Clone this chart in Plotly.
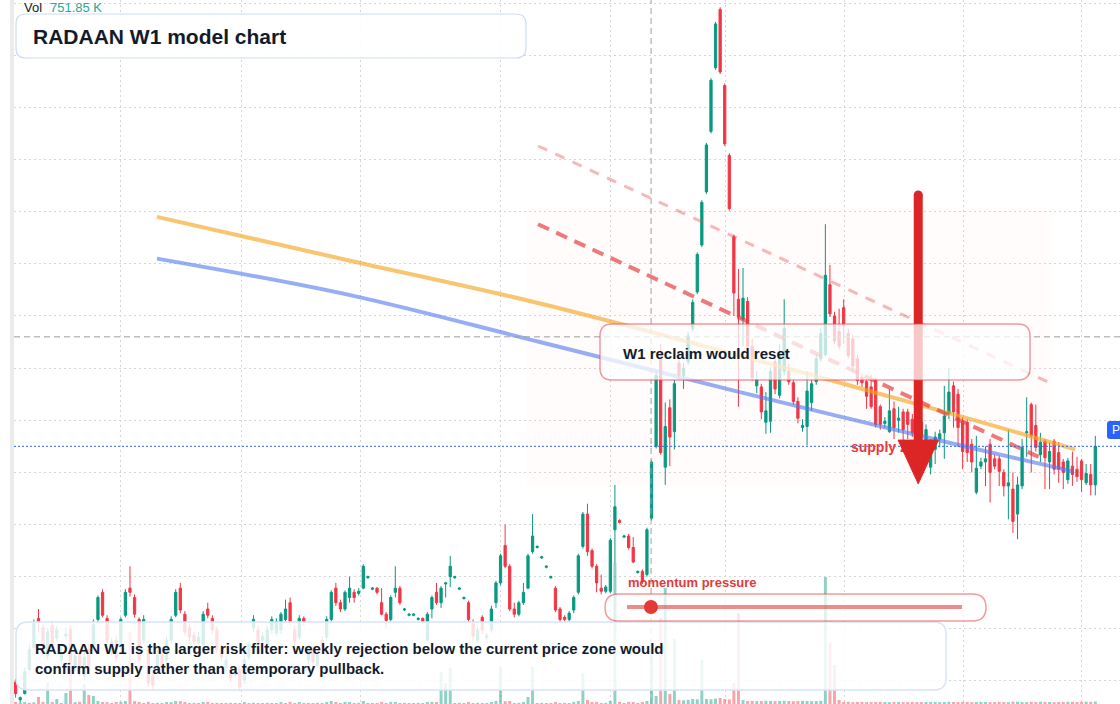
import plotly.graph_objects as go

# ---------------- data (weekly candles, index = week number) ----------------
opens = [
    4.9, 3.2, 3.8, 6.1, 8.2, 11.0, 10.1, 7.4, 10.3, 9.1,
    7.0, 9.3, 9.9, 6.3, 7.6, 5.5, 8.0, 8.4, 10.9, 13.5,
    11.0, 8.0, 8.9, 8.5, 11.3, 13.9, 13.0, 10.9, 8.9, 8.0,
    5.5, 6.1, 7.5, 7.0, 8.9, 11.3, 13.9, 11.4, 10.1, 9.4,
    8.7, 8.5, 11.9, 11.0, 9.9, 8.2, 6.3, 6.1, 5.6, 6.1,
    5.1, 7.3, 10.1, 9.9, 8.9, 8.5, 9.9, 9.6, 9.9, 10.9,
    12.5, 9.9, 9.2, 11.0, 7.0, 8.0, 6.5, 8.9, 9.2, 10.9,
    13.9, 12.5, 11.9, 13.0, 13.5, 13.4, 13.9, 14.9, 13.8, 13.9,
    12.5, 11.4, 10.9, 13.5, 13.9, 11.8, 11.3, 11.3, 10.9, 11.0,
    8.9, 11.9, 13.5, 12.5, 14.3, 15.0, 14.9, 13.8, 12.9, 12.5,
    10.5, 8.9, 11.1, 9.2, 9.9, 12.5, 14.4, 18.0, 16.0, 11.9,
    11.4, 12.5, 13.9, 17.4, 17.8, 16.8, 15.9, 14.9, 13.9, 11.9,
    11.1, 10.9, 11.8, 13.5, 17.9, 21.0, 17.5, 16.0, 13.9, 13.6,
    13.6, 19.5, 20.4, 18.8, 18.9, 17.8, 15.4, 15.5, 15.2, 20.6,
    27.5, 35.9, 25.5, 31.2, 28.9, 35.5, 34.3, 35.6, 38.8, 42.3,
    46.8, 51.9, 57.7, 63.8, 69.4, 62.1, 55.4, 47.6, 41.6, 39.7,
    41.4, 37.1, 33.3, 33.2, 29.8, 29.9, 35.6, 32.4, 34.7, 34.7,
    33.6, 31.8, 29.3, 29.4, 31.7, 33.7, 35.9, 36.3, 43.0, 40.0,
    38.5, 40.8, 38.3, 37.8, 35.9, 34.1, 33.7, 33.2, 33.9, 31.3,
    29.7, 28.9, 31.1, 30.0, 30.8, 30.8, 30.1, 29.6, 29.8, 27.7,
    25.5, 27.2, 28.2, 28.8, 30.6, 33.3, 32.5, 29.9, 29.8, 27.7,
    23.1, 25.6, 26.0, 27.7, 26.3, 26.3, 25.0, 23.7, 23.4, 21.0,
    23.7, 28.8, 31.5, 29.5, 26.7, 28.0, 26.0, 28.0, 26.9, 26.0,
    24.3, 25.6, 25.3, 26.1, 24.0, 24.8, 23.8,
]
highs = [
    5.2, 3.5, 6.3, 8.5, 10.9, 11.9, 10.4, 10.1, 10.7, 10.3,
    8.2, 10.1, 10.3, 7.8, 8.0, 7.8, 8.5, 10.9, 13.2, 13.8,
    11.3, 9.1, 9.3, 11.1, 13.8, 16.0, 13.3, 11.1, 11.3, 8.4,
    5.9, 8.0, 8.0, 9.3, 11.2, 13.8, 14.4, 11.7, 10.5, 9.7,
    9.7, 11.7, 12.5, 11.3, 10.2, 8.5, 7.4, 6.4, 6.3, 6.4,
    7.4, 8.8, 11.3, 10.3, 9.7, 10.3, 11.2, 11.0, 11.6, 12.8,
    13.0, 10.3, 11.3, 11.2, 8.4, 8.4, 8.0, 9.3, 11.2, 13.7,
    14.4, 12.8, 13.7, 15.0, 13.8, 13.9, 16.2, 15.1, 14.0, 14.0,
    13.9, 11.6, 13.2, 16.0, 14.1, 12.0, 11.5, 11.5, 11.1, 11.1,
    11.6, 13.2, 14.4, 14.1, 14.5, 17.0, 15.1, 14.0, 13.1, 12.7,
    10.9, 10.3, 11.3, 9.6, 12.2, 14.6, 17.2, 20.0, 16.2, 12.5,
    12.7, 14.4, 17.2, 21.0, 18.0, 17.0, 16.1, 15.1, 14.1, 12.1,
    11.3, 11.7, 13.2, 17.2, 21.2, 22.0, 17.7, 16.2, 15.2, 14.2,
    18.7, 23.8, 20.5, 19.0, 19.1, 18.8, 15.6, 15.7, 19.7, 26.2,
    34.7, 37.3, 31.7, 32.0, 33.9, 36.1, 35.5, 38.5, 41.6, 46.1,
    51.1, 56.6, 62.8, 68.2, 69.6, 62.3, 55.6, 47.8, 44.5, 44.6,
    41.8, 37.8, 34.7, 33.5, 32.7, 35.1, 36.1, 37.3, 41.6, 35.4,
    33.9, 32.2, 30.1, 34.7, 33.9, 36.3, 38.8, 48.8, 44.9, 40.4,
    40.7, 41.6, 38.8, 38.2, 36.3, 34.5, 33.9, 34.4, 34.1, 31.5,
    30.3, 33.0, 31.8, 31.3, 31.1, 31.1, 30.6, 30.1, 30.3, 29.6,
    28.2, 28.9, 29.1, 33.3, 35.0, 33.7, 33.0, 30.3, 30.1, 28.2,
    28.5, 26.4, 27.5, 28.2, 26.7, 26.6, 25.3, 29.1, 25.0, 24.6,
    28.2, 32.2, 31.7, 31.5, 28.8, 28.2, 27.9, 28.2, 27.9, 26.3,
    26.4, 27.0, 26.5, 26.3, 25.8, 25.8, 28.5,
]
lows = [
    3.4, 2.9, 3.7, 5.9, 8.0, 9.7, 8.0, 7.0, 7.8, 8.8,
    6.6, 8.9, 6.6, 5.9, 5.5, 5.1, 5.9, 8.0, 10.5, 11.1,
    8.6, 7.4, 6.8, 8.0, 11.1, 13.1, 11.1, 6.6, 8.6, 4.5,
    4.1, 5.7, 5.9, 6.6, 8.6, 11.1, 11.5, 9.3, 8.8, 8.4,
    8.4, 8.2, 11.0, 9.5, 7.7, 6.9, 5.9, 4.9, 5.3, 4.1,
    4.7, 7.0, 9.7, 8.3, 8.6, 8.2, 9.5, 9.3, 9.5, 10.7,
    10.4, 8.4, 8.9, 10.3, 6.6, 6.4, 6.3, 8.0, 8.9, 10.7,
    12.2, 11.6, 11.7, 12.5, 12.5, 13.2, 13.8, 14.8, 13.7, 13.3,
    11.3, 10.1, 10.7, 13.0, 12.3, 11.7, 11.2, 11.2, 10.8, 10.5,
    8.8, 11.0, 12.3, 12.0, 13.0, 14.0, 14.8, 13.7, 12.8, 10.7,
    8.9, 8.7, 9.5, 8.9, 9.6, 12.0, 14.2, 15.8, 11.7, 11.1,
    11.2, 12.3, 13.8, 17.2, 17.7, 16.7, 15.8, 14.8, 11.6, 10.5,
    10.7, 10.7, 11.5, 13.3, 17.7, 17.0, 15.8, 13.5, 13.3, 13.4,
    13.4, 16.3, 20.1, 18.7, 17.6, 16.3, 15.3, 14.3, 15.0, 20.4,
    27.3, 26.7, 23.8, 25.6, 27.2, 33.9, 33.0, 35.3, 38.5, 42.1,
    46.6, 51.7, 57.5, 63.6, 63.2, 56.3, 50.1, 40.0, 31.3, 37.1,
    36.8, 33.8, 32.6, 30.1, 28.7, 28.8, 32.5, 32.1, 34.3, 33.4,
    31.5, 29.7, 28.9, 27.6, 30.9, 33.4, 35.6, 36.1, 39.9, 37.3,
    36.8, 37.3, 35.9, 34.7, 33.4, 33.2, 31.1, 31.1, 29.3, 29.1,
    29.3, 28.8, 28.2, 28.8, 27.9, 28.2, 28.4, 27.7, 27.2, 27.2,
    24.8, 25.8, 27.4, 26.3, 30.1, 29.3, 27.5, 25.3, 26.0, 25.0,
    22.9, 25.3, 23.7, 22.1, 25.3, 23.7, 22.7, 20.5, 19.2, 18.6,
    23.4, 26.5, 25.0, 27.0, 26.0, 23.4, 23.4, 24.8, 24.0, 23.4,
    23.9, 23.7, 24.1, 23.1, 23.8, 22.8, 22.8,
]
closes = [
    3.8, 3.4, 5.9, 8.0, 10.5, 10.6, 8.3, 9.7, 8.2, 9.9,
    7.6, 9.5, 7.0, 7.4, 6.3, 7.3, 6.3, 10.4, 13.0, 11.3,
    8.9, 8.8, 7.2, 10.9, 13.5, 13.5, 11.4, 7.0, 10.9, 4.8,
    4.6, 7.5, 6.3, 8.9, 10.9, 13.5, 11.8, 9.7, 9.2, 8.8,
    9.2, 11.4, 11.3, 9.9, 8.0, 7.3, 7.0, 5.3, 5.9, 4.4,
    7.0, 8.5, 10.9, 8.7, 9.3, 9.9, 10.9, 10.7, 11.4, 11.9,
    10.7, 8.8, 11.0, 10.7, 8.0, 6.8, 7.5, 8.3, 10.9, 13.5,
    12.5, 11.9, 13.5, 13.9, 13.0, 13.6, 16.0, 15.0, 13.9, 13.5,
    11.4, 10.8, 13.0, 13.9, 12.5, 11.9, 11.4, 11.4, 11.0, 10.7,
    11.4, 13.0, 12.5, 13.9, 14.4, 16.0, 15.0, 13.9, 13.0, 10.9,
    9.3, 9.9, 9.9, 9.3, 11.9, 14.4, 17.0, 16.0, 11.9, 11.4,
    12.5, 13.5, 17.0, 18.9, 17.9, 16.9, 16.0, 15.0, 11.8, 10.9,
    10.9, 11.5, 13.0, 17.0, 21.0, 17.4, 16.0, 14.4, 13.6, 14.0,
    18.5, 21.7, 20.2, 18.9, 17.8, 16.4, 15.5, 14.5, 19.5, 26.0,
    34.3, 26.9, 29.4, 28.4, 33.5, 34.3, 35.0, 38.1, 41.3, 45.9,
    50.9, 56.4, 62.6, 68.0, 63.4, 56.5, 50.3, 42.2, 39.9, 41.7,
    37.1, 34.1, 33.9, 30.8, 30.9, 34.7, 33.0, 36.5, 38.8, 33.7,
    31.8, 30.2, 29.5, 32.8, 33.5, 35.9, 38.3, 43.9, 40.2, 37.6,
    37.1, 39.1, 36.2, 35.2, 33.8, 33.6, 32.3, 31.3, 29.6, 29.6,
    29.9, 30.9, 29.3, 30.2, 29.1, 29.6, 28.8, 28.4, 28.5, 29.1,
    27.2, 28.4, 28.7, 30.4, 32.7, 30.8, 29.3, 27.0, 26.9, 26.0,
    25.4, 26.0, 26.3, 25.0, 25.6, 25.1, 23.7, 24.0, 20.3, 23.8,
    27.4, 28.9, 28.5, 27.4, 27.9, 26.4, 27.0, 25.3, 25.3, 25.0,
    26.1, 24.8, 24.6, 24.3, 24.9, 23.8, 27.5,
]
volumes_k = [
    600, 300, 550, 350, 500, 2100, 650, 6600, 600, 1500,
    300, 3300, 22800, 550, 650, 6000, 2700, 2400, 900, 600,
    550, 300, 600, 650, 900, 21600, 850, 600, 300, 650,
    300, 350, 300, 600, 550, 900, 850, 600, 300, 350,
    300, 600, 650, 300, 350, 300, 300, 350, 300, 300,
    600, 300, 350, 300, 300, 350, 300, 300, 600, 300,
    650, 300, 600, 350, 300, 300, 350, 300, 600, 900,
    600, 300, 650, 600, 300, 350, 900, 300, 300, 350,
    600, 300, 650, 600, 300, 350, 300, 300, 350, 300,
    600, 650, 600, 9600, 6300, 10800, 300, 350, 300, 600,
    300, 350, 300, 300, 600, 900, 11100, 850, 900, 300,
    350, 600, 2100, 11100, 300, 350, 300, 300, 600, 300,
    350, 300, 600, 900, 9300, 1200, 600, 650, 300, 350,
    900, 42300, 600, 300, 650, 600, 300, 600, 900, 18000,
    2400, 25800, 34800, 3000, 19500, 1200, 1100, 1250, 1500, 1400,
    13200, 1500, 1450, 1600, 1800, 1500, 1400, 6300, 27300, 1200,
    900, 950, 850, 900, 950, 900, 850, 900, 950, 900,
    850, 900, 950, 900, 850, 900, 950, 38100, 18300, 11700,
    1200, 600, 650, 550, 600, 650, 600, 550, 600, 650,
    600, 550, 650, 600, 550, 600, 650, 600, 550, 600,
    650, 600, 550, 600, 650, 600, 550, 650, 600, 550,
    600, 650, 600, 550, 600, 650, 600, 550, 700, 650,
    600, 550, 650, 600, 700, 650, 600, 550, 650, 600,
    700, 650, 600, 650, 700, 680, 751.85,
]
week_idx = list(range(len(closes)))

# vertical grid (half-year boundaries, in week index) and price grid levels
grid_idx = [23.0, 49.3, 75.3, 105.9, 130.1, 155.1, 181.1, 207.1, 232.9]
price_grid = [5, 10, 15, 20, 25, 30, 35, 40, 45, 50, 55, 60, 65, 70]

# moving-average style guide lines
orange_ma_idx = [30.9, 73.1, 114.6, 158.3, 206.4, 231.6]
orange_ma_val = [49.5, 45.3, 41.2, 36.2, 30.4, 27.2]
blue_ma_idx = [30.9, 73.1, 114.6, 158.3, 206.4, 231.1]
blue_ma_val = [45.5, 42.0, 37.5, 32.7, 27.6, 25.1]

# descending trend lines (start / end)
upper_trend_idx = [114.2, 226.5]
upper_trend_val = [56.3, 33.5]
lower_trend_idx = [114.2, 225.0]
lower_trend_val = [48.8, 26.2]

# shaded zone
zone_idx = [111.8, 226.5]
zone_val = [23.6, 50.3]

# downward arrow
arrow_idx = 197.3
arrow_top = 51.6
arrow_base = 28.1
arrow_tip = 23.9
arrow_half = 4.4

# supply zone label position
supply_idx = 182.6
supply_val = 27.3

# crosshair
cross_idx = 138.9
cross_val = 38.0

# momentum gauge (0..1)
momentum_value = 0.07

x_range = [-0.35, 241.4]
y_range = [2.79, 70.3]
vol_range = [0, 211200]

# ---------------- figure ----------------
GREEN = "#089981"
RED = "#f23645"
FONT = "Liberation Sans, Arial, sans-serif"

fig = go.Figure()

vol_colors = ["rgba(8,153,129,0.45)" if c >= o else "rgba(242,54,69,0.45)"
              for o, c in zip(opens, closes)]
fig.add_trace(go.Bar(x=week_idx, y=volumes_k, marker_color=vol_colors,
                     marker_line_width=0, width=0.65, yaxis="y", hoverinfo="skip"))

fig.add_trace(go.Candlestick(
    x=week_idx, open=opens, high=highs, low=lows, close=closes, yaxis="y2",
    increasing=dict(line=dict(color=GREEN, width=1), fillcolor=GREEN),
    decreasing=dict(line=dict(color=RED, width=1), fillcolor=RED),
    whiskerwidth=0, hoverinfo="skip"))

fig.add_trace(go.Scatter(x=orange_ma_idx, y=orange_ma_val, mode="lines", yaxis="y2",
                         line=dict(color="rgba(245,166,35,0.65)", width=4, shape="spline", smoothing=1.0),
                         hoverinfo="skip"))
fig.add_trace(go.Scatter(x=blue_ma_idx, y=blue_ma_val, mode="lines", yaxis="y2",
                         line=dict(color="rgba(80,120,240,0.6)", width=4, shape="spline", smoothing=1.0),
                         hoverinfo="skip"))
fig.add_trace(go.Scatter(x=upper_trend_idx, y=upper_trend_val, mode="lines", yaxis="y2",
                         line=dict(color="rgba(232,70,70,0.38)", width=3, dash="10px,9px"),
                         hoverinfo="skip"))
fig.add_trace(go.Scatter(x=lower_trend_idx, y=lower_trend_val, mode="lines", yaxis="y2",
                         line=dict(color="rgba(228,60,60,0.68)", width=4, dash="12px,8px"),
                         hoverinfo="skip"))
# crosshair
fig.add_trace(go.Scatter(x=x_range, y=[cross_val, cross_val], mode="lines", yaxis="y2",
                         line=dict(color="#9e9e9e", width=1, dash="6px,4px"), hoverinfo="skip"))
fig.add_trace(go.Scatter(x=[cross_idx, cross_idx], y=y_range, mode="lines", yaxis="y2",
                         line=dict(color="#9e9e9e", width=1, dash="6px,4px"), hoverinfo="skip"))
# last price line
fig.add_trace(go.Scatter(x=x_range, y=[closes[-1], closes[-1]], mode="lines", yaxis="y2",
                         line=dict(color="#2962ff", width=1, dash="2px,2px"), hoverinfo="skip"))
# supply zone label (under arrow head)
fig.add_trace(go.Scatter(x=[supply_idx], y=[supply_val], mode="text", yaxis="y2",
                         text=["<b>supply zone</b>"], textposition="middle right",
                         textfont=dict(family=FONT, size=14, color="#e23b3b"), hoverinfo="skip"))
# arrow
fig.add_trace(go.Scatter(x=[arrow_idx, arrow_idx], y=[arrow_top, arrow_base], mode="lines", yaxis="y2",
                         line=dict(color="#dc2626", width=9), hoverinfo="skip"))
fig.add_trace(go.Scatter(x=[arrow_idx], y=[arrow_top], mode="markers", yaxis="y2",
                         marker=dict(color="#dc2626", size=9), hoverinfo="skip"))
fig.add_trace(go.Scatter(x=[arrow_idx - arrow_half, arrow_idx + arrow_half, arrow_idx, arrow_idx - arrow_half],
                         y=[arrow_base, arrow_base, arrow_tip, arrow_base], mode="lines", yaxis="y2",
                         fill="toself", fillcolor="#dc2626", line=dict(color="#dc2626", width=1),
                         hoverinfo="skip"))

# ---------------- layout helpers (pixel -> paper) ----------------
PL, PW, PH = 14, 1106, 704


def X(px):
    return (px - PL) / PW


def Y(py):
    return 1 - py / PH


def rounded(x0, y0, x1, y1, r):
    pts = [
        f"M {X(x0 + r)},{Y(y0)}", f"L {X(x1 - r)},{Y(y0)}",
        f"Q {X(x1)},{Y(y0)} {X(x1)},{Y(y0 + r)}", f"L {X(x1)},{Y(y1 - r)}",
        f"Q {X(x1)},{Y(y1)} {X(x1 - r)},{Y(y1)}", f"L {X(x0 + r)},{Y(y1)}",
        f"Q {X(x0)},{Y(y1)} {X(x0)},{Y(y1 - r)}", f"L {X(x0)},{Y(y0 + r)}",
        f"Q {X(x0)},{Y(y0)} {X(x0 + r)},{Y(y0)}", "Z",
    ]
    return " ".join(pts)


track_x0, track_x1 = 627, 962
dot_x = track_x0 + momentum_value * (track_x1 - track_x0) + 0.5

shapes = [
    dict(type="rect", xref="x", yref="y2", x0=zone_idx[0], x1=zone_idx[1], y0=zone_val[0], y1=zone_val[1],
         fillcolor="rgba(250,120,80,0.025)", line=dict(width=0), layer="below"),
    dict(type="rect", xref="paper", yref="paper", x0=X(10), x1=X(14), y0=0, y1=1,
         fillcolor="#ebebeb", line=dict(width=0), layer="above"),
    dict(type="path", xref="paper", yref="paper", path=rounded(16, 14, 526, 58, 10),
         fillcolor="rgba(255,255,255,0.9)", line=dict(color="#cddcf3", width=1.2), layer="above"),
    dict(type="path", xref="paper", yref="paper", path=rounded(600, 324, 1030, 380, 12),
         fillcolor="rgba(255,255,255,0.75)", line=dict(color="rgba(235,70,80,0.55)", width=1.5), layer="above"),
    dict(type="path", xref="paper", yref="paper", path=rounded(16, 622, 946, 690, 12),
         fillcolor="rgba(255,255,255,0.84)", line=dict(color="#d8e4f7", width=1.5), layer="above"),
    dict(type="path", xref="paper", yref="paper", path=rounded(605, 594, 986, 621, 13.5),
         fillcolor="rgba(255,255,255,0.7)", line=dict(color="rgba(235,70,70,0.55)", width=1.5), layer="above"),
    dict(type="line", xref="paper", yref="paper", x0=X(track_x0), x1=X(track_x1), y0=Y(607), y1=Y(607),
         line=dict(color="rgba(228,70,70,0.62)", width=4), layer="above"),
    dict(type="circle", xref="paper", yref="paper", x0=X(dot_x - 7), x1=X(dot_x + 7), y0=Y(614), y1=Y(600),
         fillcolor="#e53935", line=dict(color="#e53935", width=0), layer="above"),
    dict(type="path", xref="paper", yref="paper", path=rounded(1107, 421, 1132, 439, 3),
         fillcolor="#2962ff", line=dict(width=0), layer="above"),
]

annotations = [
    dict(x=X(22), y=Y(8), text="Vol", font=dict(family=FONT, size=13, color="#131722")),
    dict(x=X(48), y=Y(8), text="751.85 K", font=dict(family=FONT, size=13, color="#22ab94")),
    dict(x=X(31), y=Y(36), text="<b>RADAAN W1 model chart</b>", font=dict(family=FONT, size=21, color="#131b2b")),
    dict(x=X(621), y=Y(353), text="<b>W1 reclaim would reset</b>", font=dict(family=FONT, size=15, color="#131b2b")),
    dict(x=X(33), y=Y(658), align="left",
         text="<b>RADAAN W1 is the larger risk filter: weekly rejection below the current price zone would"
              "<br>confirm supply rather than a temporary pullback.</b>",
         font=dict(family=FONT, size=15, color="#131b2b")),
    dict(x=X(626), y=Y(582), text="<b>momentum pressure</b>", font=dict(family=FONT, size=13, color="#e23b3b")),
    dict(x=X(1110), y=Y(430), text="P", font=dict(family=FONT, size=12, color="white")),
]
for a in annotations:
    a.update(xref="paper", yref="paper", xanchor="left", yanchor="middle", showarrow=False)

GRID = "#d6d6d6"
fig.update_layout(
    width=1120, height=704, margin=dict(l=PL, r=0, t=0, b=0),
    paper_bgcolor="white", plot_bgcolor="white", showlegend=False,
    xaxis=dict(range=x_range, tickvals=grid_idx, showticklabels=False, ticks="",
               showgrid=True, gridcolor=GRID, gridwidth=1, griddash="2px,3px",
               zeroline=False, showline=False, rangeslider=dict(visible=False), fixedrange=True),
    yaxis=dict(range=vol_range, visible=False, showgrid=False, zeroline=False, fixedrange=True),
    yaxis2=dict(range=y_range, overlaying="y", side="right", tickvals=price_grid,
                showticklabels=False, ticks="", showgrid=True, gridcolor=GRID, gridwidth=1,
                griddash="2px,3px", zeroline=False, showline=False, automargin=False, fixedrange=True),
    shapes=shapes, annotations=annotations,
)

fig.write_html("out.html", config={"displayModeBar": False})
